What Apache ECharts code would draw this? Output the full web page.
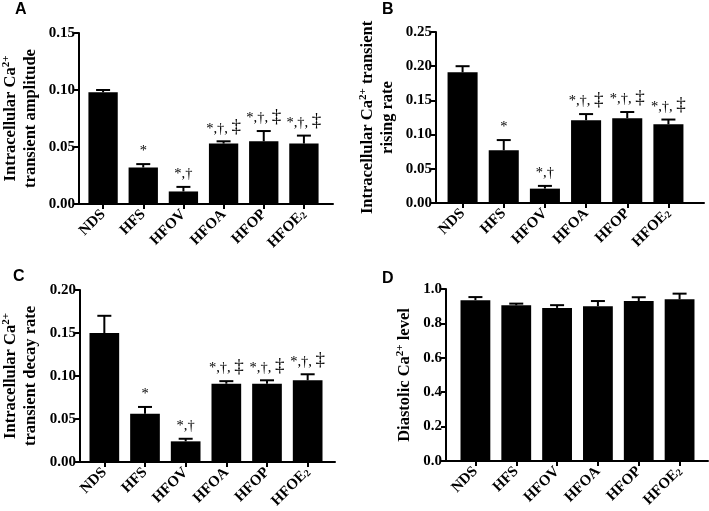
<!DOCTYPE html>
<html><head><meta charset="utf-8">
<script src="https://cdn.jsdelivr.net/npm/echarts@6/dist/echarts.min.js"></script>
<style>html,body{margin:0;padding:0;background:#fff}#c{width:709px;height:511px}</style>
</head><body><div id="c"></div>
<script>
const categories = ['NDS', 'HFS', 'HFOV', 'HFOA', 'HFOP', 'HFOE2'];
const amplitudeMean = [0.098, 0.032, 0.011, 0.053, 0.055, 0.053];
const amplitudeSem  = [0.002, 0.003, 0.004, 0.002, 0.009, 0.007];
const risingMean = [0.191, 0.077, 0.021, 0.121, 0.124, 0.115];
const risingSem  = [0.009, 0.015, 0.004, 0.009, 0.009, 0.007];
const decayMean = [0.150, 0.056, 0.024, 0.091, 0.091, 0.095];
const decaySem  = [0.020, 0.008, 0.003, 0.003, 0.004, 0.007];
const diastolicMean = [0.935, 0.905, 0.890, 0.900, 0.930, 0.940];
const diastolicSem  = [0.018, 0.010, 0.016, 0.030, 0.022, 0.033];
const sigAmplitude = ['', '*', '*,\u2020', '*,\u2020, \u2021', '*,\u2020, \u2021', '*,\u2020, \u2021'];
const sigRising    = ['', '*', '*,\u2020', '*,\u2020, \u2021', '*,\u2020, \u2021', '*,\u2020, \u2021'];
const sigDecay     = ['', '*', '*,\u2020', '*,\u2020, \u2021', '*,\u2020, \u2021', '*,\u2020, \u2021'];
const sigDiastolic = ['', '', '', '', '', ''];
const yMaxes = [0.15, 0.25, 0.20, 1.0];
const yIntervals = [0.05, 0.05, 0.05, 0.2];
const yDecimals = [2, 2, 2, 1];
const yNames = [
  'Intracellular Ca{sup|2+}\ntransient amplitude',
  'Intracellular Ca{sup|2+} transient\nrising rate',
  'Intracellular Ca{sup|2+}\ntransient decay rate',
  'Diastolic Ca{sup|2+} level'
];
const panelLetters = ['A', 'B', 'C', 'D'];

const SERIF = '"Liberation Serif", "Times New Roman", serif';
// full axis frames
const frames = [
  {left: 77, top: 33, width: 256, height: 171},
  {left: 436, top: 32, width: 268, height: 171},
  {left: 77, top: 290, width: 258, height: 172},
  {left: 446, top: 289, width: 262, height: 172}
];
// category band region inside each frame
const bands = [
  {left: 83, width: 241},
  {left: 442, width: 247},
  {left: 84, width: 244},
  {left: 455, width: 245}
];
const nameGaps = [38, 38, 39, 31];
const letterPos = [[15, 2], [382, 2], [13, 269], [382, 271]];

const means = [amplitudeMean, risingMean, decayMean, diastolicMean];
const sems = [amplitudeSem, risingSem, decaySem, diastolicSem];
const sigs = [sigAmplitude, sigRising, sigDecay, sigDiastolic];

function sigRich(t) {
  const parts = t.split('\u2021');
  return '{a|' + parts[0] + '}' + (parts.length > 1 ? '{b|\u2021}' : '');
}

function makeErr(sig) {
  return function (params, api) {
    const i = api.value(0), m = api.value(1), e = api.value(2);
    const base = api.coord([i, m]);
    const top = api.coord([i, m + e]);
    const cap = 7;
    const children = [
      {type: 'line', shape: {x1: base[0], y1: base[1], x2: top[0], y2: top[1]}, style: {stroke: '#000', lineWidth: 2}},
      {type: 'line', shape: {x1: top[0] - cap, y1: top[1], x2: top[0] + cap, y2: top[1]}, style: {stroke: '#000', lineWidth: 2}}
    ];
    const t = sig[params.dataIndex];
    if (t) {
      children.push({type: 'text', style: {
        text: sigRich(t), x: top[0], y: top[1] - 5, align: 'center', verticalAlign: 'bottom',
        fill: '#000',
        rich: {
          a: {fontFamily: SERIF, fontSize: 14.5, lineHeight: 20, verticalAlign: 'bottom', fill: '#000'},
          b: {fontFamily: SERIF, fontSize: 19, lineHeight: 20, verticalAlign: 'bottom', fill: '#000'}
        }
      }});
    }
    return {type: 'group', children: children};
  };
}

const grids = [], xAxes = [], yAxes = [], series = [], graphics = [];
for (let k = 0; k < 4; k++) {
  const f = frames[k], b = bands[k];
  const outer = 2 * k, inner = 2 * k + 1;
  grids.push({left: f.left, top: f.top, width: f.width, height: f.height});
  grids.push({left: b.left, top: f.top, width: b.width, height: f.height});
  // outer: frame axes
  xAxes.push({
    type: 'value', gridIndex: outer, min: 0, max: 1,
    axisLine: {show: true, lineStyle: {color: '#000', width: 2}},
    axisTick: {show: false}, axisLabel: {show: false}, splitLine: {show: false}
  });
  yAxes.push({
    type: 'value', gridIndex: outer, min: 0, max: yMaxes[k], interval: yIntervals[k],
    splitLine: {show: false},
    axisLine: {show: true, lineStyle: {color: '#000', width: 2}},
    axisTick: {show: true, length: 5, lineStyle: {color: '#000', width: 2}},
    axisLabel: {color: '#000', fontFamily: SERIF, fontWeight: 'bold', fontSize: 15, margin: 4,
      formatter: v => v.toFixed(yDecimals[k])},
    name: yNames[k], nameLocation: 'middle', nameRotate: 90, nameGap: nameGaps[k],
    nameTextStyle: {
      color: '#000', fontFamily: SERIF, fontWeight: 'bold', fontSize: 16.5, lineHeight: 20,
      rich: {sup: {color: '#000', fontFamily: SERIF, fontWeight: 'bold', fontSize: 11, lineHeight: 11, verticalAlign: 'top'}}
    }
  });
  // inner: category band
  xAxes.push({
    type: 'category', gridIndex: inner, data: categories,
    axisLine: {show: false},
    axisTick: {show: true, alignWithLabel: true, length: 5, lineStyle: {color: '#000', width: 2}},
    axisLabel: {
      rotate: 45, interval: 0, margin: 8, color: '#000',
      fontFamily: SERIF, fontWeight: 'bold', fontSize: 15,
      formatter: v => v === 'HFOE2' ? 'HFOE{sub|2}' : v,
      rich: {sub: {fontFamily: SERIF, fontWeight: 'bold', fontSize: 10, verticalAlign: 'bottom', color: '#000'}}
    }
  });
  yAxes.push({
    type: 'value', gridIndex: inner, min: 0, max: yMaxes[k], interval: yIntervals[k], show: false
  });
  series.push({
    type: 'bar', xAxisIndex: inner, yAxisIndex: inner, data: means[k], barWidth: '73%',
    itemStyle: {color: '#000'}, silent: true
  });
  series.push({
    type: 'custom', xAxisIndex: inner, yAxisIndex: inner, z: 3,
    data: means[k].map((m, i) => [i, m, sems[k][i]]),
    renderItem: makeErr(sigs[k])
  });
  graphics.push({type: 'text', left: letterPos[k][0], top: letterPos[k][1],
    style: {text: panelLetters[k], font: 'bold 16px "Liberation Sans", Arial, sans-serif', fill: '#000'}});
}

const chart = echarts.init(document.getElementById('c'), null, {renderer: 'canvas'});
chart.setOption({
  animation: false,
  backgroundColor: '#fff',
  grid: grids,
  xAxis: xAxes,
  yAxis: yAxes,
  series: series,
  graphic: graphics
});
</script>
</body></html>
